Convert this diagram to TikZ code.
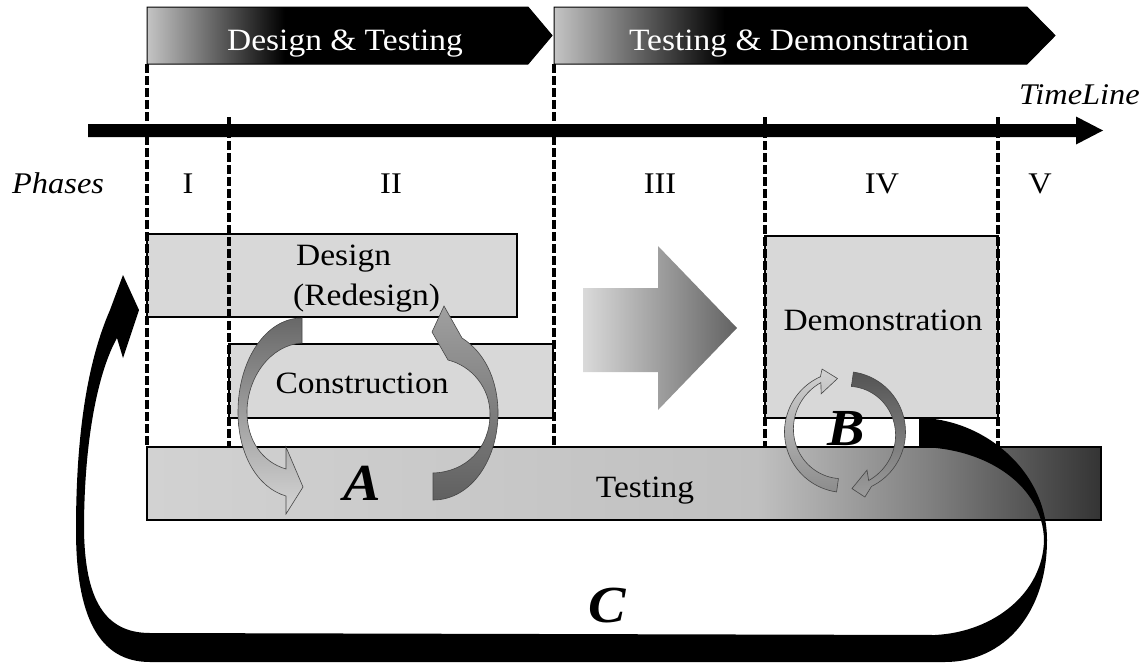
\documentclass[tikz,border=0pt]{standalone}
\usepackage{fontspec}
\setmainfont{Liberation Serif}[FakeStretch=1.08]

% colours
\definecolor{boxfill}{RGB}{216,216,216}
\definecolor{bannerlight}{RGB}{196,196,196}
\definecolor{tzero}{RGB}{210,210,210}
\definecolor{tone}{RGB}{192,192,192}
\definecolor{ttwo}{RGB}{128,128,128}
\definecolor{tthree}{RGB}{52,52,52}
\definecolor{bigl}{RGB}{218,218,218}
\definecolor{bigd}{RGB}{98,98,98}
\definecolor{aonetop}{RGB}{104,104,104}
\definecolor{aonebot}{RGB}{214,214,214}
\definecolor{atwotop}{RGB}{160,160,160}
\definecolor{atwobot}{RGB}{96,96,96}
\definecolor{bonetop}{RGB}{210,210,210}
\definecolor{bonebot}{RGB}{140,140,140}
\definecolor{btwotop}{RGB}{84,84,84}
\definecolor{btwobot}{RGB}{156,156,156}
\definecolor{rim}{RGB}{70,70,70}

% shadings (the path box maps onto 25bp..75bp)
\pgfdeclarehorizontalshading{bannershade}{100bp}{color(0bp)=(bannerlight); color(25bp)=(bannerlight); color(42bp)=(black); color(100bp)=(black)}
\pgfdeclarehorizontalshading{testshade}{100bp}{color(0bp)=(tzero); color(25bp)=(tzero); color(57bp)=(tone); color(66bp)=(ttwo); color(75bp)=(tthree); color(100bp)=(tthree)}
\pgfdeclarehorizontalshading{bigshade}{100bp}{color(0bp)=(bigl); color(25bp)=(bigl); color(75bp)=(bigd); color(100bp)=(bigd)}

\tikzset{
  boxline/.style={draw=black, line width=1.2pt},
  phaseline/.style={draw=black, line width=3.4pt, dash pattern=on 9pt off 3pt},
  lbl/.style={font=\fontsize{31}{36}\selectfont, inner sep=0pt},
  bannertext/.style={lbl, text=white},
  numeral/.style={font=\fontsize{30}{34}\selectfont, inner sep=0pt, anchor=base},
  itlbl/.style={font=\fontsize{30}{34}\selectfont\itshape, inner sep=0pt},
  bigletter/.style={font=\fontsize{52}{56}\selectfont\bfseries\itshape, inner sep=0pt, anchor=base},
  ribbon/.style={draw=rim, line width=0.6pt},
}

\begin{document}
\begin{tikzpicture}[x=1pt,y=-1pt]
\useasboundingbox (0,0) rectangle (1144,667);

% ---- stage banners
\shadedraw[shading=bannershade, draw=black, line width=1pt]
  (147,7) -- (528,7) -- (552,35.5) -- (528,64) -- (147,64) -- cycle;
\shadedraw[shading=bannershade, draw=black, line width=1pt]
  (554,7) -- (1027,7) -- (1055,35.5) -- (1027,64) -- (554,64) -- cycle;
\node[bannertext, anchor=base] (stageone) at (345,50) {Design \& Testing};
\node[bannertext, anchor=base] (stagetwo) at (799,50) {Testing \& Demonstration};

% ---- time line
\fill[black] (88,124) -- (1076,124) -- (1076,116.5) -- (1103,130.5)
  -- (1076,144.5) -- (1076,137) -- (88,137) -- cycle;
\node[itlbl, anchor=base east] (timeline) at (1140,104) {TimeLine};

% ---- phase labels
\node[itlbl, anchor=base west] (phases) at (12,193) {Phases};
\node[numeral] (pI)   at (188,193) {I};
\node[numeral] (pII)  at (391,193) {II};
\node[numeral] (pIII) at (660,193) {III};
\node[numeral] (pIV)  at (882,193) {IV};
\node[numeral] (pV)   at (1040,193) {V};

% ---- activity boxes
\fill[boxfill] (147,234) rectangle (517,317);
\draw[boxline] (147,234) rectangle (517,317);
\fill[boxfill] (229,344) rectangle (553,418);
\draw[boxline] (229,344) rectangle (553,418);
\fill[boxfill] (765,236) rectangle (998,418);
\draw[boxline] (765,236) rectangle (998,418);
\shadedraw[shading=testshade, draw=black, line width=1.2pt] (147,447) rectangle (1101,520);

\node[lbl, anchor=base west] (design) at (296,265) {Design};
\node[lbl, anchor=base west] (redesign) at (293,305) {(Redesign)};
\node[lbl, anchor=base] (construction) at (362,393) {Construction};
\node[lbl, anchor=base] (demo) at (883,330) {Demonstration};
\node[lbl, anchor=base] (testing) at (645,497) {Testing};

% ---- phase boundaries
\draw[phaseline] (147,64) -- (147,447);
\draw[phaseline] (229,117) -- (229,447);
\draw[phaseline] (554,64) -- (554,447);
\draw[phaseline] (765,117) -- (765,447);
\draw[phaseline] (998,117) -- (998,447);

% ---- transition arrow of phase III
\shade[shading=bigshade] (583,288) -- (658,288) -- (658,246) -- (737,328)
  -- (658,410) -- (658,372) -- (583,372) -- cycle;

% ---- loop A: design <-> construction
\shadedraw[top color=aonetop, bottom color=aonebot, ribbon]
  (302,318) .. controls (266,318) and (238,360) .. (238,412)
  .. controls (238,455) and (258,488) .. (286,496)
  -- (286,514) -- (303,487) -- (286,447) -- (286,469)
  .. controls (262,462) and (247,440) .. (247,412)
  .. controls (247,378) and (270,345) .. (302,343) -- cycle;
\shadedraw[top color=atwotop, bottom color=atwobot, ribbon]
  (433,473) -- (433,500)
  .. controls (472,500) and (499,458) .. (498,410)
  .. controls (497,378) and (484,352) .. (462,338)
  -- (444,306) -- (432,332) -- (448,360)
  .. controls (472,366) and (490,388) .. (490,414)
  .. controls (490,448) and (466,472) .. (433,473) -- cycle;
\node[bigletter] (loopA) at (362,500) {A};

% ---- loop C: back from demonstration to design
\fill[black] (919,418) .. controls (980,418) and (1047,468) .. (1047,540)
  .. controls (1047,612) and (1005,662) .. (945,662)
  -- (150,662)
  .. controls (98,662) and (76,615) .. (76,530)
  .. controls (76,440) and (86,365) .. (110,310)
  -- (123,275) -- (139,310) -- (123,358) -- (117,338)
  .. controls (98,372) and (84,440) .. (84,530)
  .. controls (85,600) and (105,633) .. (150,633)
  -- (935,635)
  .. controls (995,632) and (1043,592) .. (1044,540)
  .. controls (1043,488) and (990,448) .. (919,447) -- cycle;
\node[bigletter] (loopC) at (607,622) {C};

% ---- loop B: demonstration <-> testing
\shadedraw[top color=bonetop, bottom color=bonebot, ribbon]
  plot[domain=98:246, samples=40] ({845+60.5*cos(\x)},{432+60.5*sin(\x)})
  -- ({845+67*cos(250)},{432+67*sin(250)})
  -- ({845+54*cos(262)},{432+54*sin(262)})
  -- ({845+45*cos(238)},{432+45*sin(238)})
  -- ({845+55*cos(244)},{432+55*sin(244)})
  -- plot[domain=0:1, samples=40] ({845+(55-8*\x)*cos(244-146*\x)},{432+(55-8*\x)*sin(244-146*\x)})
  -- cycle;
\shadedraw[top color=btwotop, bottom color=btwobot, ribbon]
  plot[domain=-82:64, samples=40] ({845+60.5*cos(\x)},{432+60.5*sin(\x)})
  -- ({845+68*cos(73)},{432+68*sin(73)})
  -- ({845+57*cos(83)},{432+57*sin(83)})
  -- ({845+44*cos(60)},{432+44*sin(60)})
  -- ({845+54*cos(64)},{432+54*sin(64)})
  -- plot[domain=0:1, samples=40] ({845+(54-8*\x)*cos(64-146*\x)},{432+(54-8*\x)*sin(64-146*\x)})
  -- cycle;
\node[bigletter] (loopB) at (846,445) {B};

\end{tikzpicture}
\end{document}
